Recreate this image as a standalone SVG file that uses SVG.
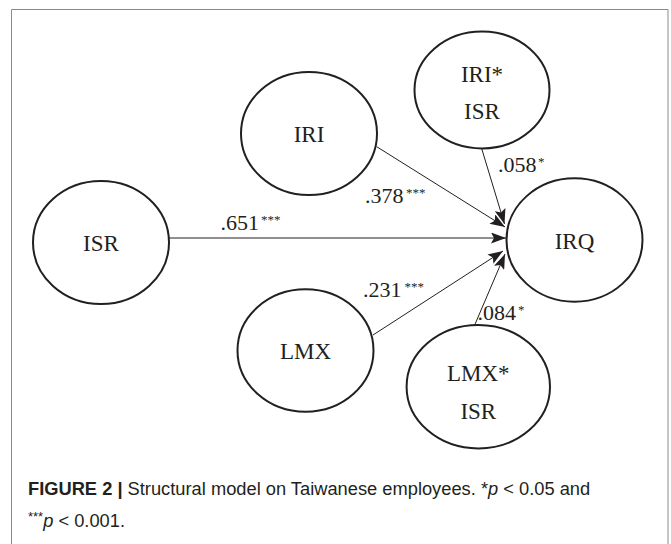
<svg xmlns="http://www.w3.org/2000/svg" width="671" height="544" viewBox="0 0 671 544">
<style>
.node ellipse{fill:#fff;stroke:#231f20;stroke-width:2}
.node text{font-family:"Liberation Serif","Times New Roman",serif;font-size:23px;fill:#231f20;text-anchor:middle}
.edge line{stroke:#231f20;stroke-width:1;marker-end:url(#ah)}
.lbl{font-family:"Liberation Serif","Times New Roman",serif;font-size:22px;fill:#231f20}
.sup{font-family:"Liberation Serif","Times New Roman",serif;font-size:13px;fill:#231f20}
.cap{font-family:"Liberation Sans",Arial,sans-serif;font-size:18.3px;fill:#231f20}
</style>
<defs>
<marker id="ah" markerUnits="userSpaceOnUse" markerWidth="15" markerHeight="11" refX="15" refY="5.5" orient="auto" viewBox="0 0 15 11">
<path d="M0,0 L15,5.5 L0,11 L3,5.5 z" fill="#231f20"/>
</marker>
</defs>
<rect x="0" y="0" width="671" height="544" fill="#fff"/>
<path d="M11.5,544 V9.5 H668 V544" fill="none" stroke="#8a8a8a" stroke-width="1"/>
<g id="connectors" class="edge">
<line x1="169" y1="238" x2="506" y2="238"/>
<line x1="376.7" y1="146.7" x2="505" y2="227"/>
<line x1="481.5" y1="148" x2="504.5" y2="224"/>
<line x1="373" y1="335" x2="503" y2="251"/>
<line x1="474.7" y1="325" x2="505" y2="254"/>
</g>
<g id="labels">
<text class="lbl" x="220.5" y="230">.651</text><text class="sup" x="261" y="224">***</text>
<text class="lbl" x="365" y="203">.378</text><text class="sup" x="406" y="197">***</text>
<text class="lbl" x="498" y="171.7">.058</text><text class="sup" x="538" y="165.5">*</text>
<text class="lbl" x="477.5" y="320">.084</text><text class="sup" x="518" y="314">*</text>
<text class="lbl" x="363" y="296.7">.231</text><text class="sup" x="404.5" y="290.5">***</text>
</g>
<g id="node-ISR" class="node"><ellipse cx="101" cy="242.5" rx="68" ry="61.5"/><text x="101" y="251">ISR</text></g>
<g id="node-IRI" class="node"><ellipse cx="309" cy="133.5" rx="68" ry="61.5"/><text x="309" y="142">IRI</text></g>
<g id="node-IRIxISR" class="node"><ellipse cx="482" cy="90" rx="67.5" ry="58.5"/><text x="482" y="82">IRI*</text><text x="482" y="119.3">ISR</text></g>
<g id="node-IRQ" class="node"><ellipse cx="574.5" cy="240" rx="68" ry="61.7"/><text x="574.5" y="249.3">IRQ</text></g>
<g id="node-LMX" class="node"><ellipse cx="305.5" cy="350.5" rx="68" ry="61.2"/><text x="305.5" y="359.3">LMX</text></g>
<g id="node-LMXxISR" class="node"><ellipse cx="478.3" cy="386.7" rx="71.7" ry="61.7"/><text x="478.3" y="381">LMX*</text><text x="478.3" y="418.5">ISR</text></g>
<g id="caption">
<text class="cap" x="28" y="495"><tspan font-weight="bold">FIGURE 2 | </tspan>Structural model on Taiwanese employees. *<tspan font-style="italic">p</tspan> &lt; 0.05 and</text>
<text class="cap" x="28" y="527"><tspan font-size="13" dy="-6">***</tspan><tspan font-style="italic" dy="6">p</tspan> &lt; 0.001.</text>
</g>
</svg>
